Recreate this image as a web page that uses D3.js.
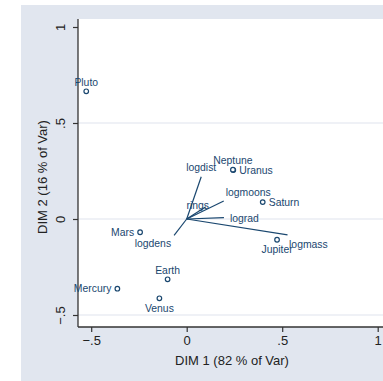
<!DOCTYPE html>
<html><head><meta charset="utf-8">
<script src="https://cdn.jsdelivr.net/npm/d3@7"></script>
<style>body{margin:0;background:#fff}svg{display:block;font-family:"Liberation Sans",Arial,sans-serif}</style>
</head><body>
<script>
const planets = ["Mercury","Venus","Earth","Mars","Jupiter","Saturn","Uranus","Neptune","Pluto"];
const planetDim1 = [-0.363,-0.143,-0.100,-0.244,0.473,0.398,0.244,0.242,-0.526];
const planetDim2 = [-0.363,-0.413,-0.314,-0.069,-0.108,0.088,0.255,0.257,0.665];
const planetLabelClock = [9,6,12,9,6,3,3,12,12];

const variables = ["rings","logdist","logmass","logdens","lograd","logmoons"];
const varDim1 = [0.1,0.076,0.528,-0.066,0.195,0.194];
const varDim2 = [0.064,0.22,-0.083,-0.085,0.007,0.094];
const varLabelClock = [10,12,4,7,3,1];

const xTicks = [-0.5,0,0.5,1];
const yTicks = [-0.5,0,0.5,1];
const xTitle = "DIM 1 (82 % of Var)";
const yTitle = "DIM 2 (16 % of Var)";

const W=383,H=381;
const navy="#1a476f";
const svg=d3.select("body").append("svg").attr("width",W).attr("height",H);
svg.append("rect").attr("x",21).attr("y",5).attr("width",W-21).attr("height",H-5).attr("fill","#e1e6ef");
const pl=78,pt=19,pr=W,pb=327;
svg.append("rect").attr("x",pl).attr("y",pt).attr("width",pr-pl).attr("height",pb-pt).attr("fill","#fff");

const x=d3.scaleLinear().domain([-0.5,1]).range([91.2,377.7]);
const y=d3.scaleLinear().domain([-0.5,1]).range([315,27]);

// gridlines
svg.append("g").selectAll("line").data(yTicks.filter(d=>d<1)).join("line")
 .attr("x1",pl).attr("x2",pr).attr("y1",d=>y(d)).attr("y2",d=>y(d))
 .attr("stroke","#dfe4ee").attr("stroke-width",1.2);

const fmt=d=>d===0?"0":d===1?"1":(d<0?"\u2212":"")+String(Math.abs(d)).replace(/^0/,"");

// y axis
const ya=svg.append("g").attr("transform",`translate(${pl},0)`)
 .call(d3.axisLeft(y).tickValues(yTicks).tickFormat(fmt).tickSize(5).tickPadding(0));
ya.select(".domain").attr("d",`M0,${pt}V${pb}`).attr("stroke","#333").attr("stroke-width",1.3);
ya.selectAll(".tick line").attr("stroke","#333").attr("stroke-width",1.2);
ya.selectAll(".tick text").attr("transform","rotate(-90)").attr("x",0).attr("y",-18)
 .attr("dy","0.35em").attr("text-anchor","middle").attr("font-size",13).attr("fill","#222");

// x axis
const xa=svg.append("g").attr("transform",`translate(0,${pb})`)
 .call(d3.axisBottom(x).tickValues(xTicks).tickFormat(fmt).tickSize(5).tickPadding(0));
xa.select(".domain").attr("d",`M${pl},0H${pr}`).attr("stroke","#333").attr("stroke-width",1.3);
xa.selectAll(".tick line").attr("stroke","#333").attr("stroke-width",1.2);
xa.selectAll(".tick text").attr("y",13).attr("dy","0.35em").attr("font-size",13).attr("fill","#222");
svg.selectAll(".tick text").attr("font-family","Liberation Sans, Arial, sans-serif");

svg.append("text").attr("x",232).attr("y",360).attr("dy","0.35em").attr("text-anchor","middle")
 .attr("font-size",13).attr("fill","#222").text(xTitle);
svg.append("text").attr("transform",`translate(42,${(pt+pb)/2+4}) rotate(-90)`).attr("dy","0.35em")
 .attr("text-anchor","middle").attr("font-size",13).attr("fill","#222").text(yTitle);

const off={0:[0,0,"middle"],10:[-8,-1,"middle"],12:[0,-9,"middle"],1:[2,-8.5,"start"],3:[6,0.5,"start"],4:[1.5,9,"start"],6:[0,10,"middle"],7:[-3,8,"end"],9:[-6,0,"end"]};

// vectors
const vg=svg.append("g");
variables.forEach((v,i)=>{
  vg.append("line").attr("x1",x(0)).attr("y1",y(0)).attr("x2",x(varDim1[i])).attr("y2",y(varDim2[i]))
   .attr("stroke",navy).attr("stroke-width",1.2);
});
variables.forEach((v,i)=>{
  const o=off[varLabelClock[i]];
  vg.append("text").attr("x",x(varDim1[i])+o[0]).attr("y",y(varDim2[i])+o[1]).attr("dy","0.35em")
   .attr("text-anchor",o[2]).attr("font-size",10.4).attr("fill",navy).text(v);
});

// points
const pg=svg.append("g");
planets.forEach((p,i)=>{
  pg.append("circle").attr("cx",x(planetDim1[i])).attr("cy",y(planetDim2[i])).attr("r",2.3)
   .attr("fill","#fff").attr("stroke",navy).attr("stroke-width",1.2);
  const o=off[planetLabelClock[i]];
  pg.append("text").attr("x",x(planetDim1[i])+o[0]).attr("y",y(planetDim2[i])+o[1]).attr("dy","0.35em")
   .attr("text-anchor",o[2]).attr("font-size",10.4).attr("fill",navy).text(p);
});
</script>
</body></html>
